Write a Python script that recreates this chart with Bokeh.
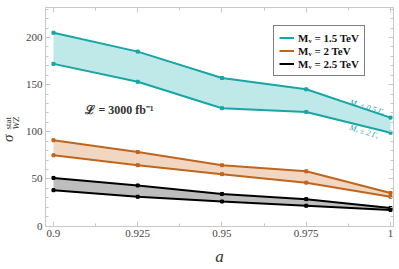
import math
from bokeh.plotting import figure
from bokeh.layouts import row
from bokeh.models import (Range1d, LinearAxis, Label, Legend, LegendItem, FixedTicker)
from bokeh.embed import file_html
from bokeh.resources import INLINE

# ---- data ----
a_vals = [0.9, 0.925, 0.95, 0.975, 1.0]
mv15_hi = [205, 185, 157, 145, 115]
mv15_lo = [172, 153, 125, 121, 99]
mv2_hi = [91, 78.5, 64.5, 58, 35]
mv2_lo = [75, 64.5, 55, 46, 31]
mv25_hi = [51, 43, 34, 28.5, 19]
mv25_lo = [38, 31, 26, 21.5, 17]
legend_labels = ["M\u1d65 = 1.5 TeV", "M\u1d65 = 2 TeV", "M\u1d65 = 2.5 TeV"]
x_ticks = [0.9, 0.925, 0.95, 0.975, 1.0]
x_minor = [0.9125, 0.9375, 0.9625, 0.9875]
x_tick_labels = {0.9: "0.9", 0.925: "0.925", 0.95: "0.95", 0.975: "0.975", 1.0: "1"}
y_ticks = [0, 50, 100, 150, 200]
y_minor = [v for v in range(0, 231, 10) if v % 50]

SERIF = "Liberation Serif"
FRAME = "#c8c8c8"
TXT = "#333333"
LW = 20     # width of the strip holding the y-axis title
H = 269
TOP, BOTTOM = 7, 43

yr = Range1d(-0.53, 231.8)

# ---- main plot ----
p = figure(width=399 - LW, height=H, output_backend="svg", toolbar_location=None,
           x_range=Range1d(0.89763, 1.00089), y_range=yr,
           min_border_left=45 - LW, min_border_right=6,
           min_border_top=TOP, min_border_bottom=BOTTOM)
p.xgrid.visible = False
p.ygrid.visible = False
p.outline_line_color = FRAME
p.background_fill_color = "white"

# ---- narrow strip for the y-axis title; shares the main plot's y scale ----
lab = figure(width=LW, height=H, output_backend="svg", toolbar_location=None,
             x_range=Range1d(0, LW), y_range=yr,
             min_border_left=0, min_border_right=0,
             min_border_top=TOP, min_border_bottom=BOTTOM,
             x_axis_type=None, y_axis_type=None)
lab.outline_line_color = None
lab.xgrid.visible = False
lab.ygrid.visible = False
rot = math.pi / 2
lab.add_layout(Label(x=7.4, y=93, text="\u03c3", angle=rot, text_font=SERIF,
                     text_font_style="italic", text_font_size="15px", text_color=TXT,
                     text_align="center", text_baseline="middle"))
lab.add_layout(Label(x=7.3, y=109, text="stat", angle=rot, text_font=SERIF,
                     text_font_size="9px", text_color=TXT,
                     text_align="center", text_baseline="middle"))
lab.add_layout(Label(x=15.0, y=109, text="WZ", angle=rot, text_font=SERIF,
                     text_font_style="italic", text_font_size="9px", text_color=TXT,
                     text_align="center", text_baseline="middle"))

series = [
    (mv15_hi, mv15_lo, "#17a5a5", "#bfe8e8"),
    (mv2_hi, mv2_lo, "#c0651c", "#f1d6c2"),
    (mv25_hi, mv25_lo, "#000000", "#bdbdbd"),
]
items = []
for (hi, lo, lc, fc), lbl in zip(series, legend_labels):
    p.varea(x=a_vals, y1=lo, y2=hi, fill_color=fc, fill_alpha=1.0)
    r1 = p.line(a_vals, hi, line_color=lc, line_width=2)
    p.line(a_vals, lo, line_color=lc, line_width=2)
    p.scatter(a_vals, hi, size=3, marker="square", color=lc)
    p.scatter(a_vals, lo, size=3, marker="square", color=lc)
    items.append(LegendItem(label=lbl, renderers=[r1]))

legend = Legend(items=items, location=(228, 150))
legend.border_line_color = "black"
legend.border_line_width = 1
legend.background_fill_color = "white"
legend.background_fill_alpha = 1
legend.label_text_font = SERIF
legend.label_text_font_size = "11px"
legend.label_text_font_style = "bold"
legend.label_text_color = "#111111"
legend.glyph_width = 15
legend.glyph_height = 13
legend.label_height = 13
legend.label_standoff = 4
legend.spacing = 0
legend.padding = 5
legend.margin = 0
p.add_layout(legend)

def style_axis(ax, show_labels):
    ax.axis_line_color = FRAME
    ax.major_tick_line_color = FRAME
    ax.minor_tick_line_color = FRAME
    ax.major_tick_in = 5
    ax.major_tick_out = 0
    ax.minor_tick_in = 3
    ax.minor_tick_out = 0
    ax.major_label_text_font = SERIF
    ax.major_label_text_color = "#444444"
    ax.major_label_text_font_size = "11px" if show_labels else "0px"
    ax.major_label_standoff = 3 if show_labels else 0

p.xaxis.ticker = FixedTicker(ticks=x_ticks, minor_ticks=x_minor)
p.xaxis.major_label_overrides = x_tick_labels
p.yaxis.ticker = FixedTicker(ticks=y_ticks, minor_ticks=y_minor)
style_axis(p.xaxis[0], True)
style_axis(p.yaxis[0], True)
p.xaxis.axis_label = "a"
p.xaxis.axis_label_text_font = SERIF
p.xaxis.axis_label_text_font_style = "italic"
p.xaxis.axis_label_text_font_size = "17px"
p.xaxis.axis_label_text_color = TXT
p.xaxis.axis_label_standoff = 7

top = LinearAxis(ticker=FixedTicker(ticks=x_ticks, minor_ticks=x_minor))
style_axis(top, False)
top.major_label_text_alpha = 0
p.add_layout(top, "above")
right = LinearAxis(ticker=FixedTicker(ticks=y_ticks, minor_ticks=y_minor))
style_axis(right, False)
right.major_label_text_alpha = 0
p.add_layout(right, "right")

p.add_layout(Label(x=0.9196, y=123, text="\u2112 = 3000 fb\u207b\u00b9", text_font=SERIF,
                   text_font_style="bold", text_font_size="12px", text_color=TXT,
                   text_align="center", text_baseline="middle"))

ang = -0.30
p.add_layout(Label(x=0.9931, y=126, text="M\u1d65 \u00b1 0.5 \u0393\u1d65", angle=ang,
                   text_font=SERIF, text_font_style="italic", text_font_size="8px",
                   text_color="#17a5a5", text_align="center", text_baseline="middle"))
p.add_layout(Label(x=0.9922, y=100, text="M\u1d65 \u00b1 2 \u0393\u1d65", angle=ang,
                   text_font=SERIF, text_font_style="italic", text_font_size="8px",
                   text_color="#17a5a5", text_align="center", text_baseline="middle"))

layout = row(lab, p, spacing=0)
open("out.html", "w").write(file_html(layout, INLINE))
